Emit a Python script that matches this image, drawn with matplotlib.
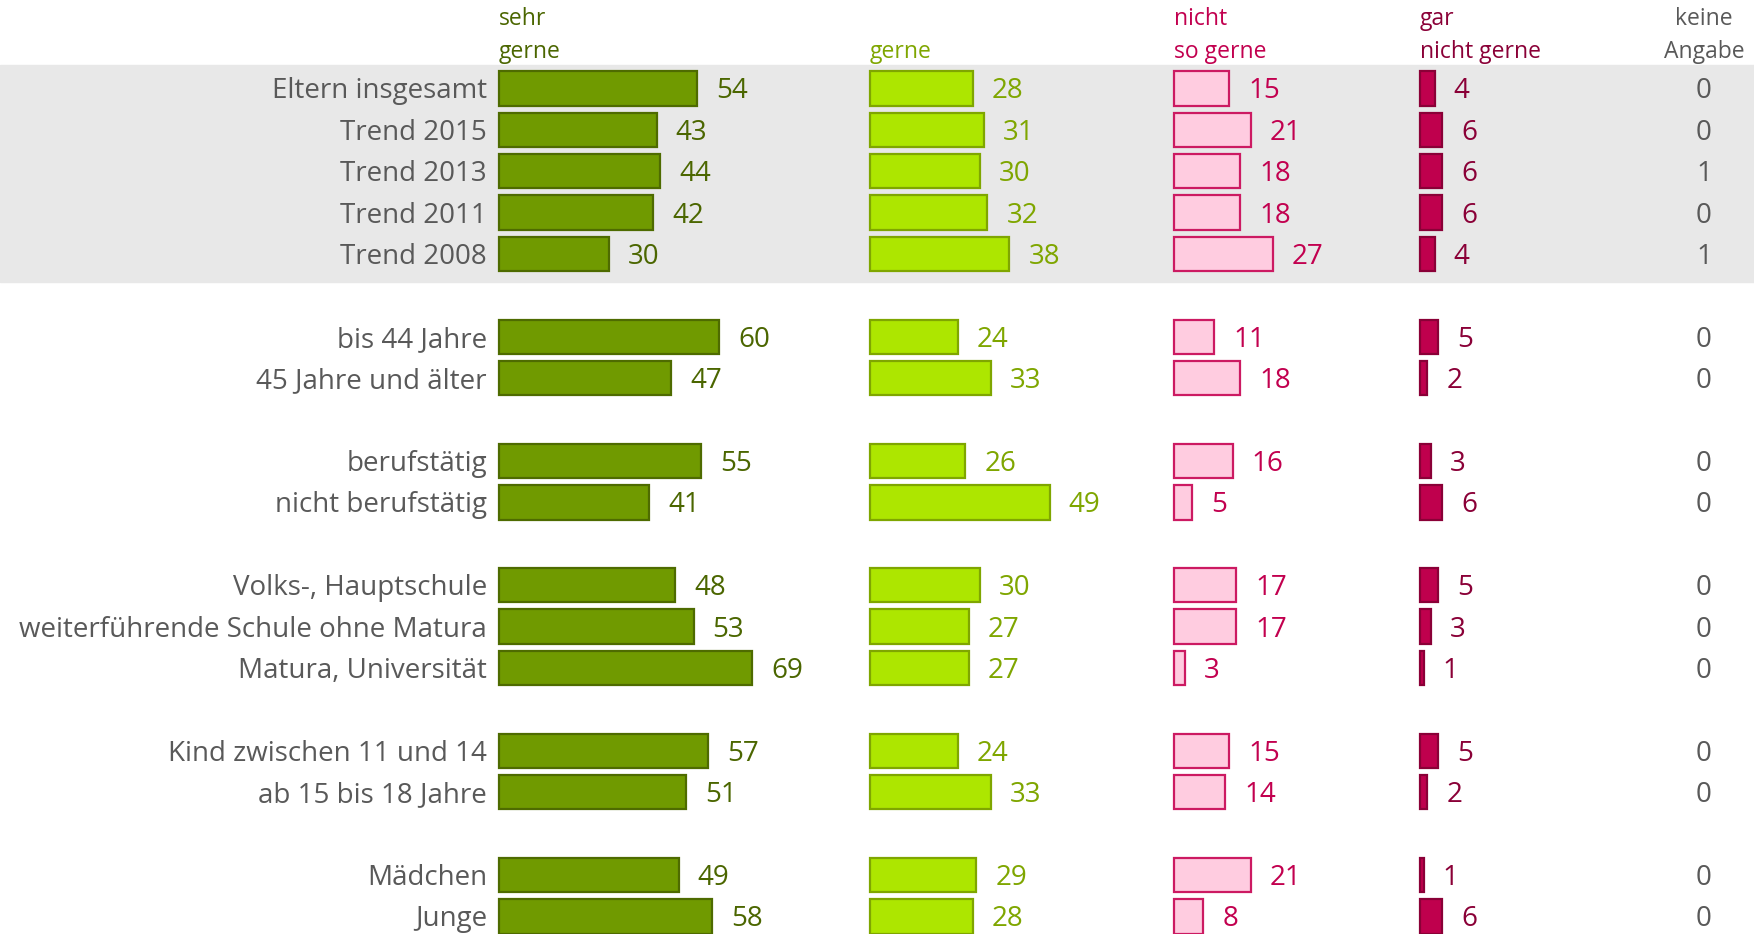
import matplotlib
matplotlib.use("Agg")
import matplotlib.pyplot as plt

# Werte (Prozent)
labels = ["Eltern insgesamt", "Trend 2015", "Trend 2013", "Trend 2011", "Trend 2008",
          "bis 44 Jahre", "45 Jahre und älter",
          "berufstätig", "nicht berufstätig",
          "Volks-, Hauptschule", "weiterführende Schule ohne Matura", "Matura, Universität",
          "Kind zwischen 11 und 14", "ab 15 bis 18 Jahre",
          "Mädchen", "Junge"]
group_sizes = [5, 2, 2, 3, 2, 2]
sehr_gerne = [54, 43, 44, 42, 30, 60, 47, 55, 41, 48, 53, 69, 57, 51, 49, 58]
gerne = [28, 31, 30, 32, 38, 24, 33, 26, 49, 30, 27, 27, 24, 33, 29, 28]
nicht_so_gerne = [15, 21, 18, 18, 27, 11, 18, 16, 5, 17, 17, 3, 15, 14, 21, 8]
gar_nicht_gerne = [4, 6, 6, 6, 4, 5, 2, 3, 6, 5, 3, 1, 5, 2, 1, 6]
keine_angabe = [0, 0, 1, 0, 1, 0, 0, 0, 0, 0, 0, 0, 0, 0, 0, 0]

headers = ["sehr\ngerne", "gerne", "nicht\nso gerne", "gar\nnicht gerne"]

W, H = 1754, 934
PX = 3.67          # pixel pro Prozentpunkt
ROW = 41.4
Y0 = 88.4
col_x = [499, 870, 1174, 1420]
keine_x = 1704
fills = ["#709a00", "#ade600", "#ffcce0", "#bf004d"]
edges = ["#4e6b00", "#7fa600", "#cc1a62", "#8a0037"]
txtcol = ["#4b6600", "#7fa600", "#c2004f", "#8a0037"]
gray = "#595959"

plt.rcParams['font.family'] = ['Liberation Sans Narrow', 'Open Sans', 'DejaVu Sans']

fig = plt.figure(figsize=(W / 100, H / 100), dpi=100)
ax = fig.add_axes([0, 0, 1, 1])
ax.set_xlim(0, W)
ax.set_ylim(H, 0)
ax.axis("off")

# Zeilenpositionen: eine Leerzeile zwischen den Gruppen
pos = []
p = 0
for g in group_sizes:
    pos.extend(range(p, p + g))
    p += g + 1
ys = [Y0 + i * ROW for i in pos]

ax.axhspan(65, 282, color="#e8e8e8", zorder=0)

series = [sehr_gerne, gerne, nicht_so_gerne, gar_nicht_gerne]
for k, vals in enumerate(series):
    ax.barh(ys, [v * PX for v in vals], left=col_x[k], height=34.5,
            color=fills[k], edgecolor=edges[k], linewidth=1.6, zorder=2)
    for y, v in zip(ys, vals):
        ax.text(col_x[k] + v * PX + 19, y + 10, str(v), color=txtcol[k],
                fontsize=20, ha="left", va="baseline")
    ax.text(col_x[k], 58, headers[k], color=txtcol[k], fontsize=16.5,
            ha="left", va="baseline", linespacing=1.5)

for y, lab, v in zip(ys, labels, keine_angabe):
    ax.text(487, y + 10, lab, color=gray, fontsize=20, ha="right", va="baseline")
    ax.text(keine_x, y + 10, str(v), color=gray, fontsize=20, ha="center", va="baseline")

ax.text(keine_x, 58, "keine\nAngabe", color=gray, fontsize=16.5,
        ha="center", va="baseline", linespacing=1.5, multialignment="center")

fig.savefig("out.png", dpi=100)
